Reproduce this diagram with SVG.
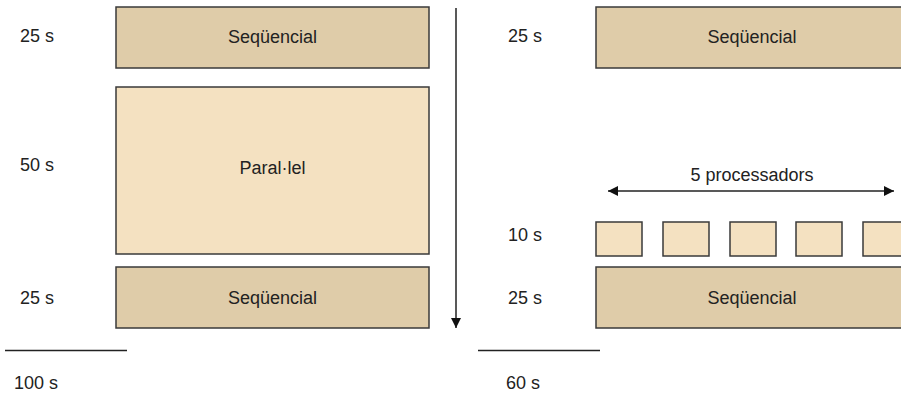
<svg xmlns="http://www.w3.org/2000/svg" width="901" height="394" viewBox="0 0 901 394">
<style>
text{font-family:"Liberation Sans",Arial,sans-serif;font-size:18px;fill:#222}
.c{text-anchor:middle}
.seq{fill:#dfcca9;stroke:#3a3a3a;stroke-width:1.5}
.par{fill:#f4e1c1;stroke:#3a3a3a;stroke-width:1.5}
.ln{stroke:#222;stroke-width:1.5;fill:none}
</style>
<defs>
<marker id="ah" viewBox="0 0 10 10" refX="10" refY="5" markerWidth="10" markerHeight="10" markerUnits="userSpaceOnUse" orient="auto-start-reverse">
<path d="M0,0 L10,5 L0,10 z" fill="#111"/>
</marker>
</defs>
<rect width="901" height="394" fill="#fff"/>
<g id="labels">
<text x="20" y="42">25 s</text>
<text x="20" y="171">50 s</text>
<text x="20" y="304">25 s</text>
<text x="14" y="389">100 s</text>
<text x="508" y="42">25 s</text>
<text x="508" y="241">10 s</text>
<text x="508" y="304">25 s</text>
<text x="506" y="389">60 s</text>
</g>
<g id="seq-left-top"><rect class="seq" x="116" y="7" width="313" height="61"/><text class="c" x="272.5" y="43">Seqüencial</text></g>
<g id="par-left"><rect class="par" x="116" y="87" width="313" height="167"/><text class="c" x="272.5" y="174">Paral·lel</text></g>
<g id="seq-left-bottom"><rect class="seq" x="116" y="267" width="313" height="61"/><text class="c" x="272.5" y="304">Seqüencial</text></g>
<g id="seq-right-top"><rect class="seq" x="596" y="7" width="313" height="61"/><text class="c" x="752" y="43">Seqüencial</text></g>
<g id="procs">
<rect class="par" x="596" y="222" width="46" height="34"/>
<rect class="par" x="663" y="222" width="46" height="34"/>
<rect class="par" x="730" y="222" width="46" height="34"/>
<rect class="par" x="796" y="222" width="46" height="34"/>
<rect class="par" x="863" y="222" width="46" height="34"/>
</g>
<g id="seq-right-bottom"><rect class="seq" x="596" y="267" width="313" height="61"/><text class="c" x="752" y="304">Seqüencial</text></g>
<g id="connectors">
<line class="ln" x1="456" y1="8" x2="456" y2="328" marker-end="url(#ah)"/>
<line class="ln" x1="608" y1="191" x2="894" y2="191" marker-start="url(#ah)" marker-end="url(#ah)"/>
<line class="ln" x1="5" y1="350.5" x2="127" y2="350.5"/>
<line class="ln" x1="478" y1="350.5" x2="600" y2="350.5"/>
</g>
<text class="c" x="752" y="181">5 processadors</text>
</svg>
